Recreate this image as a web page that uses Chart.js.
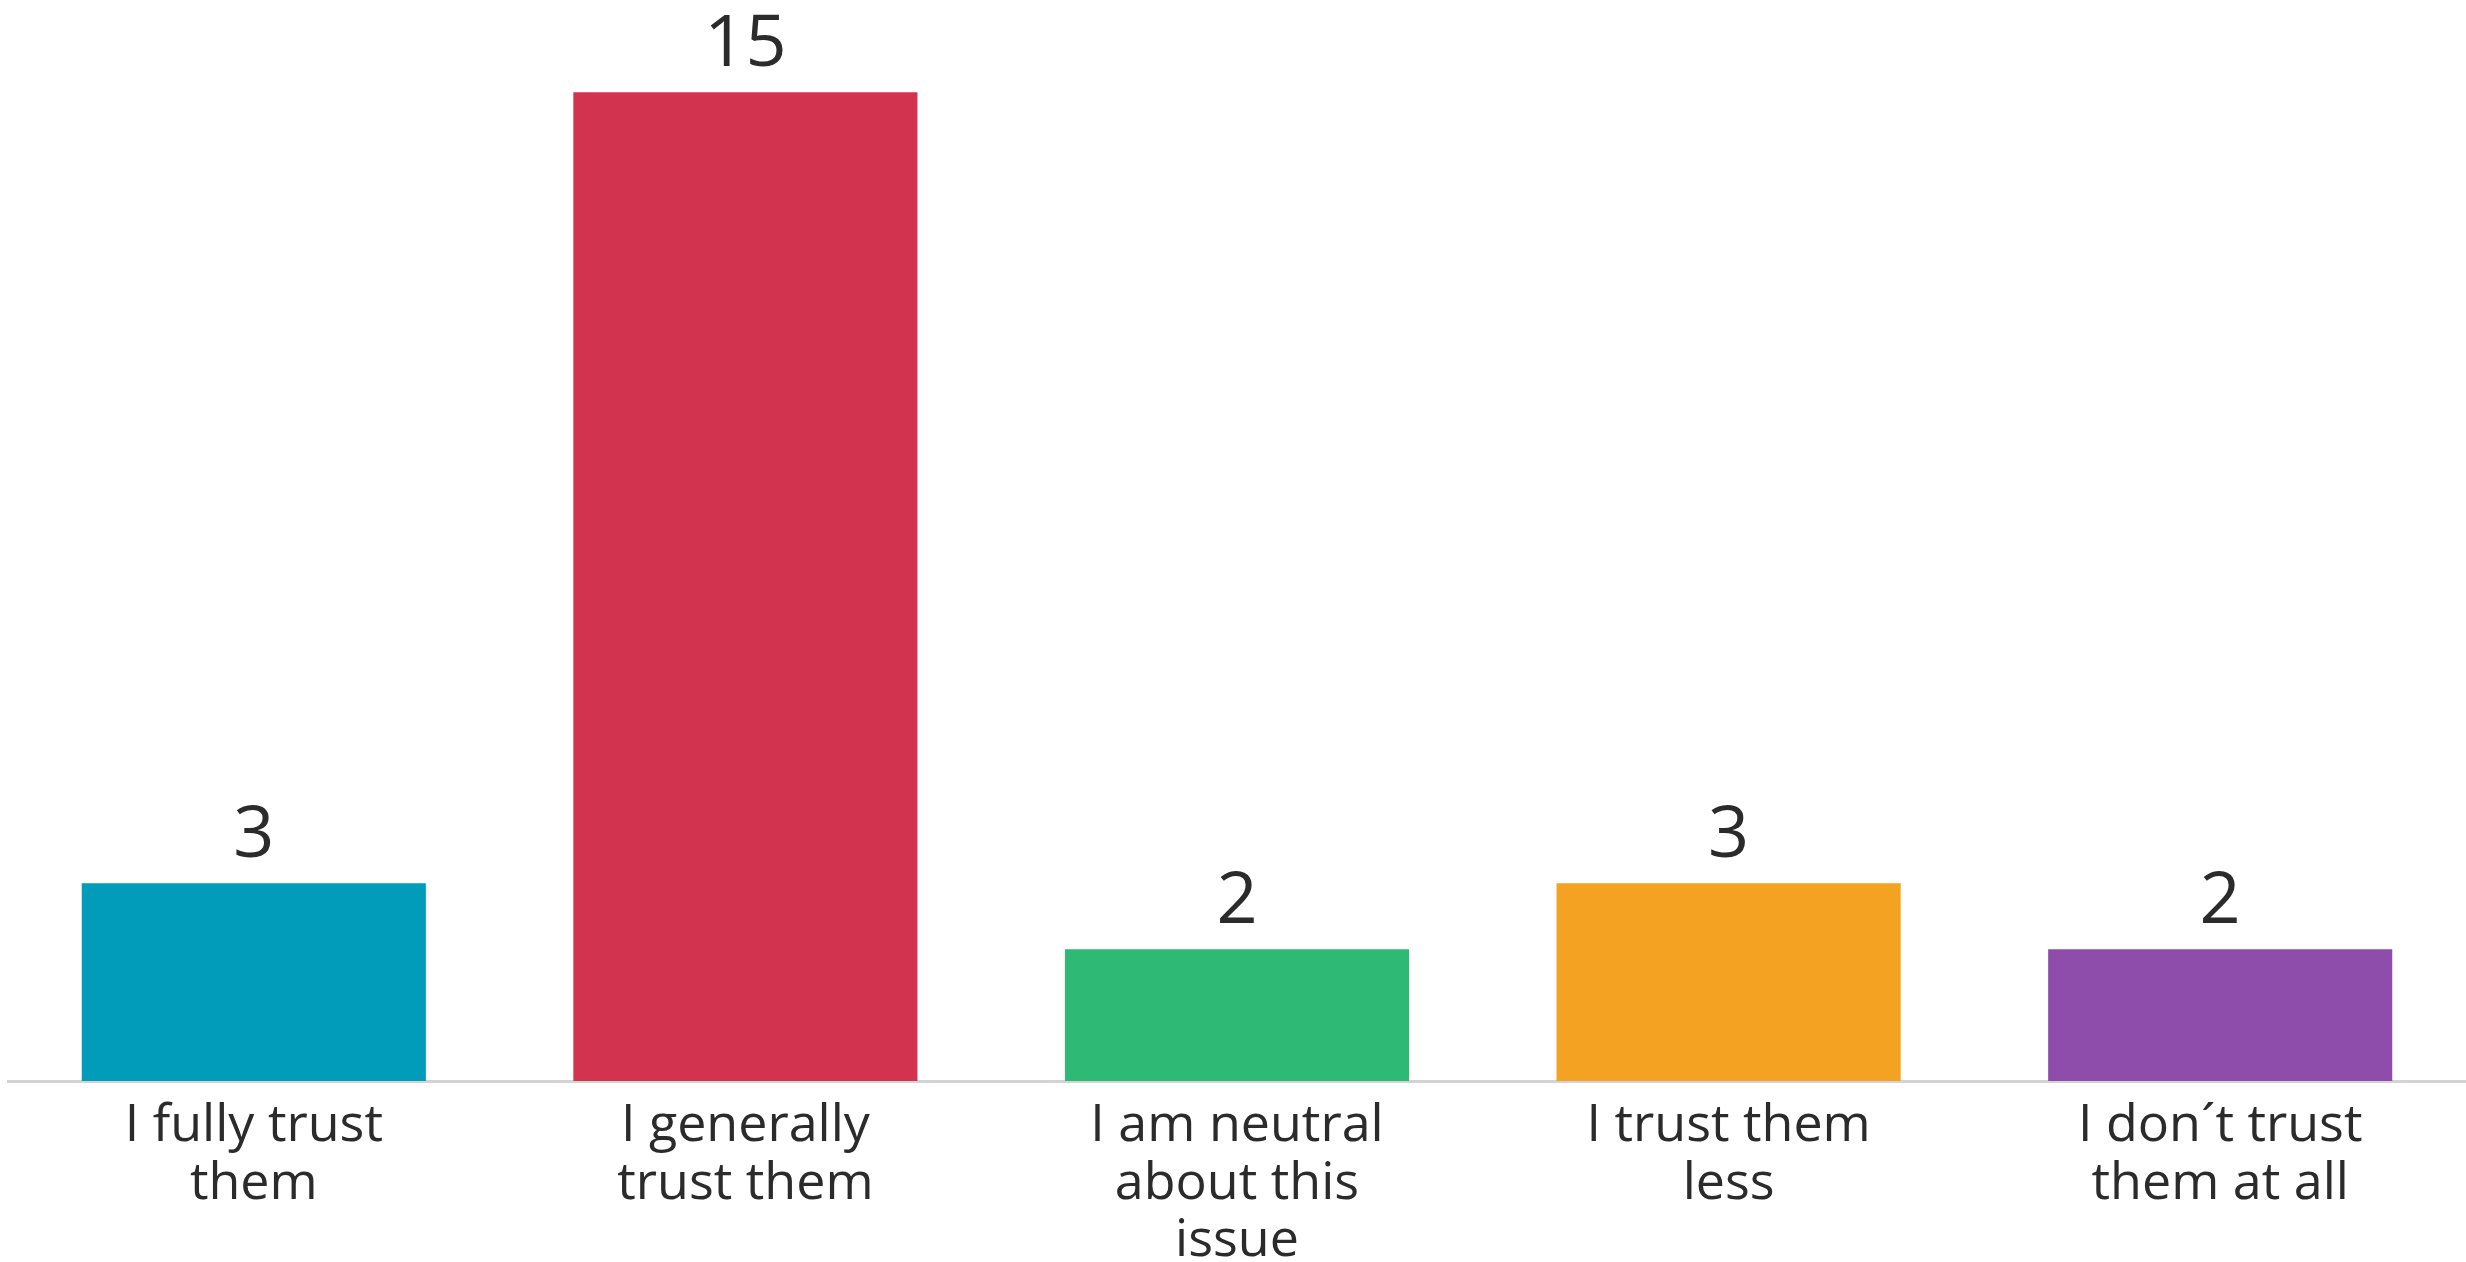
<!DOCTYPE html>
<html>
<head>
<meta charset="utf-8">
<script src="https://cdn.jsdelivr.net/npm/chart.js@4/dist/chart.umd.min.js"></script>
<style>
  html, body { margin: 0; padding: 0; background: #fff; }
  #wrap { width: 2466px; height: 1262px; }
</style>
</head>
<body>
<div id="wrap"><canvas id="myChart" width="2466" height="1262"></canvas></div>
<script>
// categorias (rótulos do eixo x, já quebrados em linhas)
var labels = [
    ['I fully trust', 'them'],
    ['I generally', 'trust them'],
    ['I am neutral', 'about this', 'issue'],
    ['I trust them', 'less'],
    ['I don\u00b4t trust', 'them at all']
];
// valores de cada barra
var values = [3, 15, 2, 3, 2];
var barColors = ['#019cb9', '#d2334e', '#2eba74', '#f3a221', '#8e4dab'];

var fontFamily = '"Open Sans", sans-serif';

// escreve o valor em cima de cada barra
var valueLabels = {
    id: 'valueLabels',
    afterDatasetsDraw: function(chart) {
        var ctx = chart.ctx;
        var meta = chart.getDatasetMeta(0);
        ctx.save();
        ctx.fillStyle = '#2b2b2b';
        ctx.font = '72px ' + fontFamily;
        ctx.textAlign = 'center';
        ctx.textBaseline = 'alphabetic';
        meta.data.forEach(function(bar, i) {
            ctx.fillText(String(values[i]), bar.x, bar.y - 26);
        });
        ctx.restore();
    }
};

function desenhaGrafico() {
    var ctx = document.getElementById('myChart').getContext('2d');
    new Chart(ctx, {
        type: 'bar',
        data: {
            labels: labels,
            datasets: [{
                data: values,
                backgroundColor: barColors,
                borderWidth: 0,
                barPercentage: 0.7,
                categoryPercentage: 1.0
            }]
        },
        options: {
            responsive: false,
            animation: false,
            devicePixelRatio: 1,
            layout: { padding: { left: 8, right: 0, top: 0, bottom: 0 } },
            plugins: {
                legend: { display: false },
                tooltip: { enabled: false }
            },
            scales: {
                x: {
                    grid: { display: false, drawTicks: false },
                    border: { display: true, color: '#d3d3d3', width: 3 },
                    ticks: {
                        color: '#2b2b2b',
                        padding: 17,
                        maxRotation: 0,
                        autoSkip: false,
                        font: { family: fontFamily, size: 52, lineHeight: 1.1 }
                    },
                    afterFit: function(scale) { scale.height = 181; }
                },
                y: {
                    display: false,
                    min: 0,
                    max: 16.4
                }
            }
        },
        plugins: [valueLabels]
    });
}

desenhaGrafico();
</script>
</body>
</html>
